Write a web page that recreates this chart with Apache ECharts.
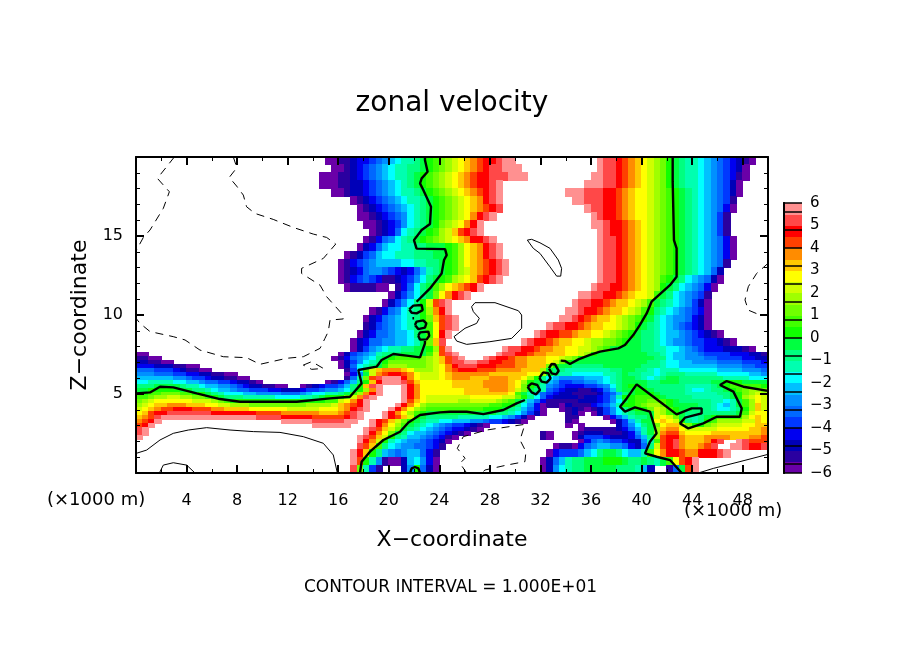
<!DOCTYPE html>
<html>
<head>
<meta charset="utf-8">
<style>
html, body { margin: 0; padding: 0; background: #fff; }
#chart { width: 904px; height: 654px; }
</style>
<script src="https://cdn.jsdelivr.net/npm/echarts@6/dist/echarts.min.js"></script>
</head>
<body>
<div id="chart"></div>
<script>
// one colour per half unit, from -6 up to 6
var levelColors = ['#6a00a8', '#2a00a0', '#0000b8', '#0000f0', '#0038ff', '#0068ff', '#0090ff', '#00c0ff',
    '#00ffff', '#00ffb0', '#00ff80', '#00ff40', '#10ff00', '#40ff00', '#70ff00', '#a0ff00',
    '#d0ff00', '#ffff00', '#ffc800', '#ff8c00', '#ff4000', '#ff0000', '#ff4848', '#ff9090'];
var levelLetters = 'abcdefghijklmnopqrstuvwx';
var barLines = [-6, -5.6, -4.8, -4, -3.2, -2.4, -1.6, -0.8, 0, 0.8, 1.6, 2.4, 3.2, 4, 4.8, 5.6, 6];

// height of each row of fieldRows, km
var fieldZ = [19.75, 19.25, 18.75, 18.25, 17.75, 17.25, 16.75, 16.25, 15.75, 15.25, 14.75, 14.25, 13.75,
    13.25, 12.75, 12.25, 11.75, 11.25, 10.75, 10.25, 9.75, 9.25, 8.75, 8.25, 7.75,
    7.5, 7.25, 7, 6.75, 6.5, 6.25, 6, 5.75, 5.5, 5.25, 5, 4.75, 4.5, 4.25, 4, 3.75, 3.5, 3.25, 3, 2.75, 2.5, 2.25, 2,
    1.75, 1.25, 0.75, 0.25];

// field: each group is 5 km, '.' is out of range
var fieldRows = [
    ".......... .......... .......... aabbcddefg hijjklmnop qrstuvvwxx .......... ...xwwvuts rqpomlkjji hgfedcba..",
    ".......... .......... .......... .aabcdefgh ijjkklmnop qrstuvwwxx x......... ...xwwvuts rqpomlkjji hgfedca...",
    ".......... .......... .........a aabbcdefgh ijjklmnopq rstuvvwwwx xx........ ..xxwwvuts rqpomlkjji hgfedba...",
    ".......... .......... .........a aabbccdefg hijklmnopq rstuvvwx.. .......... .xxxwwvuts rqpomlkjji hgfeca....",
    ".......... .......... .......... .aabccdefg hijjklmnop qrstuvwx.. ........xx xwwwvvutsr rqponmlkji hgfeca....",
    ".......... .......... .......... ....abcdef ghijjklmno pqrstvwx.. .........x xwwwvvutsr rqponmlkji hgfeb.....",
    ".......... .......... .......... .....abcde fghijklmno pqrstuvw.. .......... .xwwvvutsr rqponmlkji hgfda.....",
    ".......... .......... .......... .....aabcd efgijklmno pqrtvwx... .......... ..xwvvutsr rqponmlkji hgeb......",
    ".......... .......... .......... ......aabc degijklmop qrtvx..... .......... ..xxwvvuts rqponmlkji hgeb......",
    ".......... .......... .......... .......abc dfijklmnpq suvwx..... .......... ...xwvvuts rqponmlkji hgeb......",
    ".......... .......... .......... ......abdf gijklmnopq rstvvwx... .......... ...xwwvuts rqponmlkji hgfda.....",
    ".......... .......... .......... .....acdfh iijjkklllm nprstvwx.. .......... ...xwwvuts rqponmlkji hgfda.....",
    ".......... .......... .......... ...abcefhi ijjjkkkllm nprstvwx.. .......... ...xwwvuts rqponmlkji hgfda.....",
    ".......... .......... .......... ..abdefghh hhiijjkklm nprstuvwx. .......... ...xwwvuts rqponmlkji hgfb......",
    ".......... .......... .......... ..abcdfggf edcdfhjklm npqstuvwx. .......... ...xwwvuts rqponmlkji hfc.......",
    ".......... .......... .......... ..abdefedb bcdegiklmn pqrsuvwx.. .......... ...xwwvuts rqpnmlkihg fca.......",
    ".......... .......... .......... ...abbbbaa .bdfiklnpr stuvx..... .......... ..xwwvvuts rqpmlkihgf da........",
    ".......... .......... .......... .......... acegiklort vwx....... .......... xxwwvvutsr rqnlkihgfe b.........",
    ".......... .......... .......... .........a cegikmquwx .......... .........x wwvvutssrq pnlkjihgec a.........",
    ".......... .......... .......... .......abd fgijkmptvx .......... ........xx wvvutssrqp nmkjihgfed a.........",
    ".......... .......... .......... ......acdf ghijkmosuw x......... .......xxw vutssrqpon mljihggfdc a.........",
    ".......... .......... .......... ......bcef ghijklnruw x......... .....xwwvv utssrrqpom lkjihgfedc a.........",
    ".......... .......... .......... .....acdff ghhiklnrvx .......... ...xwvvuut ssrrqponml kkjihhgfed cba.......",
    ".......... .......... .......... ....acdffg ghhijlosw. .......... .xwvvutssr rqppoonmll kkjihggfee ddcba.....",
    ".......... .......... .......... ....aceghi jjkkllmpux ........xw wvvuttssrr qqponlllll kkjjiihgfe dddcccba..",
    "aa........ .......... .......... ..acefghjk kkllllnquw x......xww vvuttsssrr qpmlllllll lkkjihhggf eeeedddccb",
    "bbaa...... .......... .......... .abdfghikl mnnnnopqsu wx...xwvvu ttsssrrqpo mlllllllll llkkihhggg ffeeeeddcc",
    "ccbbaa.... .......... .......... ..acegijkm oooooopqsu wwxxwwvvuu ttsssrqoml llllllllll lkkjiihhgg ggffffeeed",
    "dddcccbbaa .......... .......... ..acfijkln pppooopqrt vwwwvvvuuu ttsssomllk kkkkllllll kkkjiihhhh hhggggffee",
    "fffeeedcbb aa........ .......... ...beinqst ttsrpppqrt uvvvuuuttt tsssplkkjj jjjjjkkllk kjijjjiiii iihhhhgggf",
    "gggfffeedd ccbbaa.... .......... ...adglqtu vvutrqqqrs ttttttssss ssrrplkjji iiiijjklkk jjijkkkjjj jjiiiiihhg",
    "hhhhhhggfe edccbbaa.. .......... ...bfjouwx xxvtrqqqrs tttsssttts srpmkihggg ghhhijkllk jijkllkkkk kkkjjjjiii",
    "iijjjjiihh gffeedccba .......... abdfhkmsvx xxwusrrrrr ssssstttts rpmlkhgeef fgghijklll lkklllkkkk kllmmmllll",
    "kkkllllkjj ihhggfedcc bbaa..abcd eefhkmswx. ..xvtrrrrr ssssstttts romljgfedd deefgiklmm lkkkkkkjjj jklmnnnnnm",
    "llmmmmmllk kjihhgffee eddcccdeef gghikmptx. ..xvtrrrrr rrssssttts qolkjfedcc bbcdfhkllm mlkkkkkjii jkklmnoppo",
    "mmnnooonnm mlkjiiihhg gggfffghii jjklnptvx. ..xvtrrrrr rrsssssssr nljhfedccb bbbcefhklm mmlkkkkjjj jjkklmopqp",
    "nnoppqqppo onmlkkkjjj jjiiiijjkl mmmoqtwx.. ..xvtrqqqq qqqrrrrrqq omkifdcccc bccdegjmmn nnmlkkkkjj jjjklmpqrq",
    "opqrrrrrrq qqponmmmmm mmmmmmmmmm nnqrtvx... ..xusrqqqq qppqqqqpon ljhfdbbbbb cccdegilmn noonmlkkkk kjjijlnprq",
    "pqrsstttss srrqqpppoo oooooooppp pqstuvx... .xvtrpoooo oooooonnmm kigdabbacb bbdefhjmmn oppomllllk kjihjlnpsq",
    "qrstuuvvvu uuttssssrr rrrrqqqqqr rrstvwx... xvtrponnnn nnnnnmmmlk jhfda..abc babcegiklm moqpnmllkk kjiijkmpsq",
    "rsuvvwwwww wwvvvvvvvu uuutttttts sstuwx...x vtrpnmllll lllllllkkj igeca...bc a.acegijkl llqpnmlkkk kkkkklnqrr",
    "stuwxxxxxx xxxxxxxxxw wwwvvvvvuu uuuvwx...x vusqmlkkkk kjjjjjiihg eca.....bb ....adfhjk klqrqoljjk lmnnnnprsr",
    "tuvx...... .......... ...xxxxxww wwwxx..xvu sqomlkjjii hhhggfeedc ba......ba .....acehj llrsrqmkjk mnppppqqsr",
    "uvx....... .......... ........xx xxxx...xvt rpnlkjihgf eedcba.... ........a. a.....cegi klorssqomm opqqqqrrss",
    "wx........ .......... .......... ......xwus qolkjihgfe ddcba..... .......... abbbbbcdfh jlpsttrqqq qqrrrrrsst",
    "wx........ .......... .......... ......xvtr olkihhgfed cba....... ....ba...a bcccbbbcdg jlptuusrrr rsssssssst",
    "x......... .......... .......... .....xwusq mkjhhgfedb a......... ....ba...a ceeedcccdf hkpuvvtsss ttttsssttu",
    ".......... .......... .......... .....xvtqm jihggfedca .......... .......... adfgfeedcc gjnuvwtsss tvw..xwuuu",
    ".......... .......... .......... .....wusnk ihggffedb. .......... ......abba dfghhggfdc fkquvwtsst uw..xxwvvw",
    ".......... .......... .......... ....xvsmkh gfghhfdb.. .......... .....adeee fhikllkihh jnrtvvuttv vvwx......",
    ".......... .......... .......... ....xumjgb aachigda.. .......... ....acfhjk klllmmmlkk lkjlnruvx. ..........",
    ".......... .......... .......... ....wojeb. ..cgmfca.. .......... ....acgijk klllllkkkj hc..bflux. .........."
];

// contour lines, [x, z] in km
var zeroLines = [
    [[0, 5.04], [1.11, 5.1], [1.9, 5.46], [2.95, 5.42], [4.8, 5.04], [6.64, 4.68], [8.23, 4.51], [12.71, 4.51], [15.35, 4.72], [16.93, 4.83], [17.85, 5.67], [17.59, 6.52], [19.04, 6.73], [19.43, 7.15], [20.36, 7.53], [21.41, 7.43], [22.47, 7.32], [22.86, 8.21], [22.86, 8.35]],
    [[22.07, 9.37], [22.2, 9.58], [22.73, 9.66], [22.97, 9.47], [22.86, 9.2], [22.33, 9.11], [22.07, 9.37]],
    [[22.33, 8.69], [22.47, 8.9], [23.13, 8.95], [23.2, 8.69], [23, 8.46], [22.47, 8.44], [22.33, 8.69]],
    [[21.62, 10.35], [21.94, 10.59], [22.6, 10.63], [22.68, 10.31], [22.2, 10.1], [21.81, 10.14], [21.62, 10.35]],
    [[21.87, 9.79], [21.94, 9.85], [22, 9.79], [21.94, 9.73], [21.87, 9.79]],
    [[22.2, 10.84], [23.26, 11.68], [24.18, 12.63], [24.37, 13.48], [24.58, 13.79], [24.45, 14.17], [22.2, 14.2], [21.99, 14.74], [22.6, 15.38], [23.26, 15.76], [23.34, 16.85], [22.73, 17.91], [22.47, 18.33], [22.6, 18.65], [23.07, 19.07], [22.86, 19.81], [22.86, 20]],
    [[42.46, 20], [42.46, 18.44], [42.56, 18.33], [42.56, 14.74], [42.77, 14.22], [42.77, 12.42], [42.24, 11.89], [41.45, 11.32], [40.79, 10.84], [40.4, 10.1], [39.87, 9.37], [39.34, 8.73], [38.68, 8.1], [38.16, 7.89], [36.71, 7.68], [35.92, 7.47], [35, 7.19], [34.33, 6.9], [33.94, 7.09], [33.6, 7.11]],
    [[32.67, 6.62], [32.88, 6.9], [33.15, 6.88], [33.44, 6.46], [33.23, 6.24], [32.88, 6.31], [32.67, 6.62]],
    [[31.91, 6.03], [32.22, 6.37], [32.62, 6.31], [32.8, 5.99], [32.49, 5.72], [32.09, 5.78], [31.91, 6.03]],
    [[30.98, 5.46], [31.3, 5.67], [31.75, 5.57], [31.96, 5.25], [31.64, 4.98], [31.3, 5.1], [30.98, 5.46]],
    [[30.77, 4.62], [30.11, 4.41], [29.06, 3.99], [27.48, 3.73], [26.16, 3.88], [24.84, 3.88], [24.05, 3.84], [22.47, 3.67], [21.55, 3.2], [20.89, 2.61], [19.57, 2.09], [18.51, 1.35], [17.85, 0.71], [17.72, 0]],
    [[21.68, 0], [21.81, 0.29], [22.07, 0.38], [22.34, 0.29], [22.47, 0]],
    [[43.17, 0], [42.25, 0.82], [41.19, 1.03], [40.27, 1.24], [40.66, 1.98], [41.19, 2.51], [40.66, 3.88], [39.48, 4.15], [38.69, 3.88], [38.29, 4.2], [38.82, 4.72], [39.61, 5.61], [40.93, 4.83], [42.77, 3.71], [43.96, 4.09], [44.75, 4.09], [44.75, 3.77], [43.43, 3.5], [43.04, 3.14], [43.7, 2.82], [44.88, 3.14], [45.94, 3.56], [47.78, 3.56], [47.92, 4.09], [47.26, 5.15], [46.2, 5.57], [46.73, 5.82], [48.05, 5.46], [50, 5.2]]
];
var plusLines = [
    [[0, 1.24], [0.84, 1.45], [1.9, 2.09], [2.95, 2.51], [4.14, 2.72], [5.59, 2.87], [7.44, 2.72], [9.28, 2.62], [11.39, 2.57], [13.24, 2.3], [14.82, 1.88], [15.61, 1.14], [15.93, 0]],
    [[1.85, 0], [2.16, 0.5], [2.95, 0.65], [4.01, 0.5], [4.67, 0]],
    [[25.16, 8.63], [26.03, 9.16], [26.95, 9.47], [27.16, 9.79], [26.69, 10.21], [26.55, 10.52], [26.82, 10.78], [28.4, 10.78], [30.25, 10.27], [30.51, 10], [30.51, 9.16], [29.72, 8.52], [28, 8.31], [26.16, 8.14], [25.37, 8.35], [25.16, 8.63]],
    [[30.96, 14.74], [31.3, 14.79], [31.96, 14.57], [32.75, 14.22], [33.41, 13.48], [33.67, 12.95], [33.6, 12.46], [33.28, 12.46], [32.75, 13.05], [31.96, 13.9], [31.43, 14.22], [30.96, 14.74]],
    [[44.49, 0], [45.67, 0.29], [47.78, 0.72], [50, 1.18]]
];
var minusLines = [
    [[3.03, 20], [2.43, 19.39], [1.69, 18.65], [2.64, 17.8], [2.16, 16.75], [1.11, 15.38], [0.58, 14.91], [0, 14.05]],
    [[7.7, 20], [7.91, 19.49], [7.83, 19.17], [7.38, 18.71], [7.96, 18.16], [8.49, 17.59], [8.75, 16.85], [9.41, 16.43], [10.86, 16.05], [12.45, 15.54], [14.03, 15.12], [15.08, 14.91], [15.8, 14.49], [14.82, 13.58], [13.1, 12.95], [13.1, 12.63], [14.56, 11.89], [15.08, 11.16], [16.27, 10.1], [16.4, 9.75], [15.35, 9.68], [15.21, 8.95], [14.95, 8.52], [14.56, 7.89], [13.24, 7.36], [11.92, 7.26], [9.81, 6.88], [8.75, 7.3], [6.91, 7.36], [5.06, 7.78], [3.88, 8.42], [2.95, 8.63], [1.11, 8.95], [0.32, 9.47], [0, 9.79]],
    [[13.24, 6.83], [13.9, 7.05], [14.82, 6.62], [13.9, 6.56], [13.24, 6.83]],
    [[50, 13.27], [49.1, 12.63], [48.44, 11.79], [48.18, 10.95], [48.44, 10.31], [49.36, 10], [50, 10]],
    [[26.16, 0], [25.63, 0.61], [26.03, 0.93], [25.42, 1.56], [25.89, 2.3], [27.74, 2.72], [30.77, 3.08], [30.38, 2.09], [30.85, 1.35], [30.77, 0.72], [29.32, 0.5], [27.61, 0.19], [27.35, 0]]
];

var FONT = 'DejaVu Sans';

// each cell is [x0, x1, z0, z1, level]
function fieldCells() {
    var cells = [];
    fieldRows.forEach(function (row, r) {
        var zTop = r === 0 ? 20 : (fieldZ[r - 1] + fieldZ[r]) / 2;
        var zLow = r === fieldRows.length - 1 ? 0 : (fieldZ[r] + fieldZ[r + 1]) / 2;
        row.split(' ').forEach(function (group, g) {
            for (var c = 0; c < group.length; c++) {
                var level = levelLetters.indexOf(group.charAt(c));
                if (level >= 0) {
                    var x = (g * 10 + c) / 2;
                    cells.push([x, x + 0.5, zLow, zTop, level]);
                }
            }
        });
    });
    return cells;
}

function barCells() {
    return levelColors.map(function (c, k) {
        return [0, 1, -6 + k / 2, -5.5 + k / 2, k];
    });
}

function renderCell(params, api) {
    var a = api.coord([api.value(0), api.value(3)]);
    var b = api.coord([api.value(1), api.value(2)]);
    var x = Math.floor(a[0]);
    var y = Math.floor(a[1]);
    return {
        type: 'rect',
        shape: { x: x, y: y, width: Math.ceil(b[0]) - x, height: Math.ceil(b[1]) - y },
        style: { fill: levelColors[api.value(4)] },
        silent: true
    };
}

function contourSeries(lines, width, type) {
    return lines.map(function (line) {
        return {
            type: 'line',
            xAxisIndex: 0,
            yAxisIndex: 0,
            data: line,
            symbol: 'none',
            silent: true,
            z: 5,
            lineStyle: { color: '#000', width: width, type: type }
        };
    });
}

function frameAxis(position, interval, minorSplit, max, labels) {
    return {
        type: 'value',
        gridIndex: 0,
        position: position,
        min: 0,
        max: max,
        interval: interval,
        z: 8,
        axisLine: { show: true, onZero: false, lineStyle: { color: '#000', width: 2 } },
        axisTick: { show: true, inside: true, length: 8, lineStyle: { color: '#000', width: 2 } },
        minorTick: { show: true, splitNumber: minorSplit, length: 4, lineStyle: { color: '#000', width: 1 } },
        splitLine: { show: false },
        axisLabel: {
            show: labels,
            color: '#000',
            fontFamily: FONT,
            fontSize: 16,
            showMinLabel: false,
            showMaxLabel: false,
            margin: position === 'bottom' ? 20 : 13
        }
    };
}

function barAxis(position, labels) {
    return {
        type: 'value',
        gridIndex: 1,
        position: position,
        min: -6,
        max: 6,
        interval: 1,
        z: 8,
        axisLine: { show: true, lineStyle: { color: '#000', width: 2 } },
        axisTick: { show: false },
        splitLine: { show: false },
        axisLabel: {
            show: labels,
            color: '#000',
            fontFamily: FONT,
            fontSize: 15,
            margin: 8,
            padding: [0, 0, 3, 0],
            formatter: function (v) { return String(v).replace('-', '\u2212'); }
        }
    };
}

var xBottom = frameAxis('bottom', 4, 2, 50, true);
xBottom.name = 'X\u2212coordinate';
xBottom.nameLocation = 'middle';
xBottom.nameGap = 56;
xBottom.nameTextStyle = { color: '#000', fontFamily: FONT, fontSize: 22 };
var yLeft = frameAxis('left', 5, 5, 20, true);
yLeft.name = 'Z\u2212coordinate';
yLeft.nameLocation = 'middle';
yLeft.nameGap = 40;
yLeft.nameTextStyle = { color: '#000', fontFamily: FONT, fontSize: 22 };

var option = {
    animation: false,
    backgroundColor: '#fff',
    grid: [
        { left: 136, top: 157, width: 632, height: 316 },
        { left: 784, top: 203, width: 18, height: 270 }
    ],
    xAxis: [
        xBottom,
        frameAxis('top', 4, 2, 50, false),
        { type: 'value', gridIndex: 1, min: 0, max: 1, show: false }
    ],
    yAxis: [
        yLeft,
        frameAxis('right', 5, 5, 20, false),
        barAxis('right', true),
        barAxis('left', false)
    ],
    graphic: [
        { type: 'text', left: 'center', top: 90, style: { text: 'zonal velocity', fontFamily: FONT, fontSize: 28, fill: '#000' } },
        { type: 'text', left: 47, top: 491, style: { text: '(\u00d71000 m)', fontFamily: FONT, fontSize: 18, fill: '#000' } },
        { type: 'text', left: 684, top: 502, style: { text: '(\u00d71000 m)', fontFamily: FONT, fontSize: 18, fill: '#000' } },
        { type: 'text', left: 304, top: 579, style: { text: 'CONTOUR INTERVAL = 1.000E+01', fontFamily: FONT, fontSize: 17, fill: '#000' } }
    ],
    series: [
        {
            type: 'custom',
            xAxisIndex: 0,
            yAxisIndex: 0,
            data: fieldCells(),
            encode: { x: [0, 1], y: [2, 3] },
            renderItem: renderCell,
            progressive: 0,
            silent: true,
            z: 1
        },
        {
            type: 'custom',
            xAxisIndex: 2,
            yAxisIndex: 2,
            data: barCells(),
            encode: { x: [0, 1], y: [2, 3] },
            renderItem: renderCell,
            silent: true,
            z: 1
        },
        {
            type: 'line',
            xAxisIndex: 2,
            yAxisIndex: 2,
            data: [],
            silent: true,
            z: 6,
            markLine: {
                silent: true,
                symbol: 'none',
                animation: false,
                label: { show: false },
                lineStyle: { color: '#000', width: 1.5, type: 'solid' },
                data: barLines.map(function (v) { return { yAxis: v }; })
            }
        }
    ]
        .concat(contourSeries(zeroLines, 2.4, 'solid'))
        .concat(contourSeries(plusLines, 1, 'solid'))
        .concat(contourSeries(minusLines, 1, [8, 6]))
};

var myChart = echarts.init(document.getElementById('chart'), null, { renderer: 'canvas' });
myChart.setOption(option);
</script>
</body>
</html>
